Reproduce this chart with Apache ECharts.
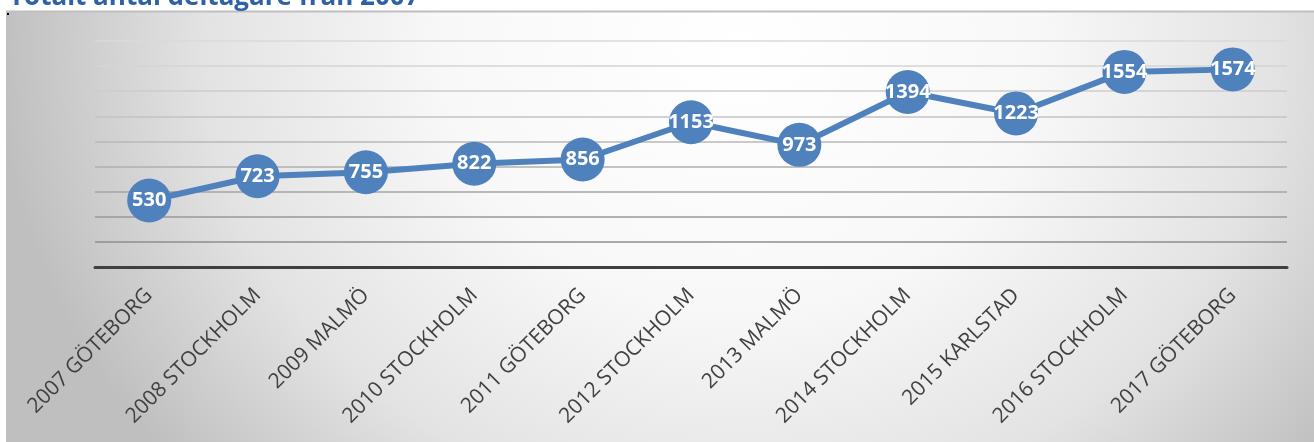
<!DOCTYPE html>
<html>
<head>
<meta charset="utf-8">
<title>Totalt antal deltagare</title>
<script src="https://cdn.jsdelivr.net/npm/echarts@6/dist/echarts.min.js"></script>
<style>
  html, body { margin: 0; padding: 0; background: #ffffff; }
  #main { width: 1314px; height: 442px; }
</style>
</head>
<body>
<div id="main"></div>
<script>
(function () {

    // data
    var categories = ['2007 GÖTEBORG', '2008 STOCKHOLM', '2009 MALMÖ', '2010 STOCKHOLM', '2011 GÖTEBORG',
        '2012 STOCKHOLM', '2013 MALMÖ', '2014 STOCKHOLM', '2015 KARLSTAD', '2016 STOCKHOLM', '2017 GÖTEBORG'];
    var deltagare = [530, 723, 755, 822, 856, 1153, 973, 1394, 1223, 1554, 1574];
    var titleText = 'Totalt antal deltagare från 2007';

    var blue = '#4f81bd';
    // grid lines go from dark at the bottom to light at the top
    var gridColors = ['#404040', '#8e8e8e', '#999999', '#a4a4a4', '#afafaf', '#b9b9b9', '#c3c3c3', '#cccccc', '#d4d4d4', '#dadada'];

    // chart area background: elliptic gradient, light near the top middle
    var bgX = 6, bgY = 11, bgW = 1308, bgH = 431, sx = 1.16;

    var option = {
        backgroundColor: '#ffffff',
        animation: false,
        graphic: [
            {
                type: 'rect', z: -10, silent: true,
                x: bgX, y: bgY, scaleX: sx,
                shape: { x: 0, y: 0, width: bgW / sx, height: bgH },
                style: {
                    fill: {
                        type: 'radial', global: true,
                        x: (740 - bgX) / sx, y: 40, r: 640,
                        colorStops: [
                            { offset: 0, color: '#ffffff' },
                            { offset: 0.4, color: '#f8f8f8' },
                            { offset: 0.72, color: '#e3e3e3' },
                            { offset: 1, color: '#bfbfbf' }
                        ]
                    }
                }
            },
            {
                type: 'line', z: -5, silent: true,
                shape: { x1: bgX, y1: 11.5, x2: 1314, y2: 11.5 },
                style: { stroke: '#bfbfbf', lineWidth: 2 }
            },
            {
                type: 'rect', z: -5, silent: true,
                shape: { x: 7, y: 13, width: 2, height: 2 },
                style: { fill: '#000000' }
            },
            {
                type: 'text', z: 5, silent: true,
                style: {
                    x: 9, y: -2, text: titleText,
                    fill: '#2f62a5', verticalAlign: 'middle',
                    font: 'bold 26px "Open Sans", sans-serif'
                }
            }
        ],
        grid: { left: 95, right: 27, top: 41, bottom: 175, containLabel: false },
        xAxis: {
            type: 'category',
            data: categories,
            boundaryGap: true,
            axisLine: { show: true, lineStyle: { color: '#404040', width: 3 } },
            axisTick: { show: false },
            axisLabel: {
                interval: 0, rotate: 45, margin: 25,
                color: '#404040', fontSize: 21,
                fontFamily: '"Open Sans", sans-serif'
            }
        },
        yAxis: {
            type: 'value',
            min: 0, max: 1800, interval: 200,
            axisLine: { show: false },
            axisTick: { show: false },
            axisLabel: { show: false },
            splitLine: { show: true, lineStyle: { color: gridColors, width: 1.5 } }
        },
        series: [{
            type: 'line',
            data: deltagare,
            symbol: 'circle',
            symbolSize: 44,
            lineStyle: { color: blue, width: 6 },
            itemStyle: { color: blue },
            label: {
                show: true, position: 'inside',
                color: '#ffffff', fontWeight: 'bold', fontSize: 20,
                fontFamily: '"Open Sans", sans-serif'
            },
            z: 3
        }]
    };

    var myChart = echarts.init(document.getElementById('main'), null, { renderer: 'canvas' });
    myChart.setOption(option);
})();
</script>
</body>
</html>
